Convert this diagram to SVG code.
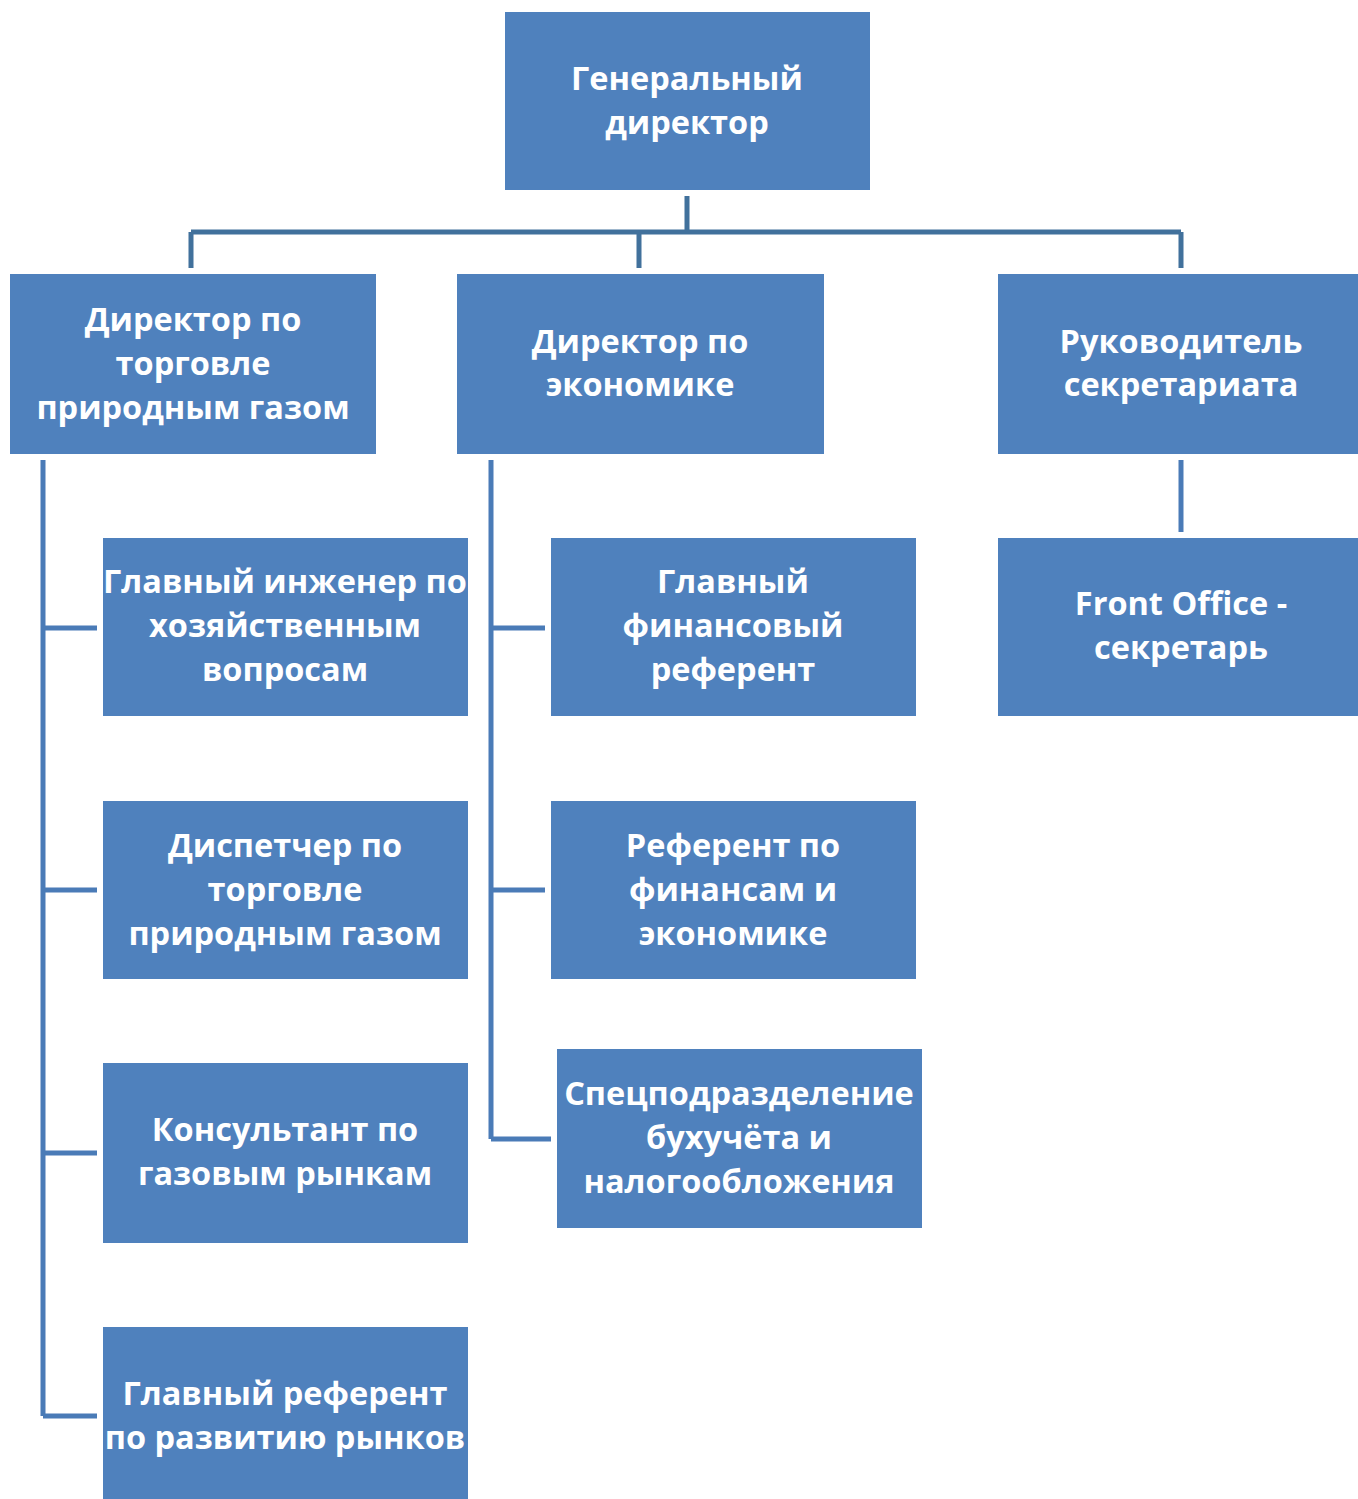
<svg xmlns="http://www.w3.org/2000/svg" width="1358" height="1499" viewBox="0 0 1358 1499">
<style>
.box{fill:#4F81BD;}
.t{font-family:"Open Sans","Noto Sans","DejaVu Sans",sans-serif;font-weight:bold;font-size:32.5px;fill:#FFFFFF;text-anchor:middle;}
.c1{stroke:#41719C;stroke-width:5;fill:none;}
.c2{stroke:#4A7BB7;stroke-width:5;fill:none;}
</style>
<rect width="1358" height="1499" fill="#FFFFFF"/>
<g id="connectors">
<path class="c1" d="M687 196 V232 M191 232 H1181 M191 232 V268 M639 232 V268 M1181 232 V268"/>
<path class="c2" d="M43 460 V1416 M43 628 H97 M43 890 H97 M43 1153 H97 M43 1416 H97"/>
<path class="c2" d="M491 460 V1139 M491 628 H545 M491 890 H545 M491 1139 H551"/>
<path class="c2" d="M1181 460 V532"/>
</g>
<g id="n_gen"><rect class="box" x="505" y="12" width="365" height="178"/>
<text class="t" x="687" y="90">Генеральный</text><text class="t" x="687" y="134">директор</text></g>
<g id="n_trade"><rect class="box" x="10" y="274" width="366" height="180"/>
<text class="t" x="193" y="331">Директор по</text><text class="t" x="193" y="375">торговле</text><text class="t" x="193" y="419">природным газом</text></g>
<g id="n_econ"><rect class="box" x="457" y="274" width="367" height="180"/>
<text class="t" x="640" y="353">Директор по</text><text class="t" x="640" y="396">экономике</text></g>
<g id="n_secr"><rect class="box" x="998" y="274" width="360" height="180"/>
<text class="t" x="1181" y="353">Руководитель</text><text class="t" x="1181" y="396">секретариата</text></g>
<g id="n_eng"><rect class="box" x="103" y="538" width="365" height="178"/>
<text class="t" x="285" y="593">Главный инженер по</text><text class="t" x="285" y="637">хозяйственным</text><text class="t" x="285" y="681">вопросам</text></g>
<g id="n_disp"><rect class="box" x="103" y="801" width="365" height="178"/>
<text class="t" x="285" y="857">Диспетчер по</text><text class="t" x="285" y="901">торговле</text><text class="t" x="285" y="945">природным газом</text></g>
<g id="n_cons"><rect class="box" x="103" y="1063" width="365" height="180"/>
<text class="t" x="285" y="1141">Консультант по</text><text class="t" x="285" y="1185">газовым рынкам</text></g>
<g id="n_ref"><rect class="box" x="103" y="1327" width="365" height="172"/>
<text class="t" x="285" y="1405">Главный референт</text><text class="t" x="285" y="1449">по развитию рынков</text></g>
<g id="n_fin"><rect class="box" x="551" y="538" width="365" height="178"/>
<text class="t" x="733" y="593">Главный</text><text class="t" x="733" y="637">финансовый</text><text class="t" x="733" y="681">референт</text></g>
<g id="n_refecon"><rect class="box" x="551" y="801" width="365" height="178"/>
<text class="t" x="733" y="857">Референт по</text><text class="t" x="733" y="901">финансам и</text><text class="t" x="733" y="945">экономике</text></g>
<g id="n_acc"><rect class="box" x="557" y="1049" width="365" height="179"/>
<text class="t" x="739" y="1105">Спецподразделение</text><text class="t" x="739" y="1149">бухучёта и</text><text class="t" x="739" y="1193">налогообложения</text></g>
<g id="n_front"><rect class="box" x="998" y="538" width="360" height="178"/>
<text class="t" x="1181" y="615">Front Office -</text><text class="t" x="1181" y="659">секретарь</text></g>
</svg>
